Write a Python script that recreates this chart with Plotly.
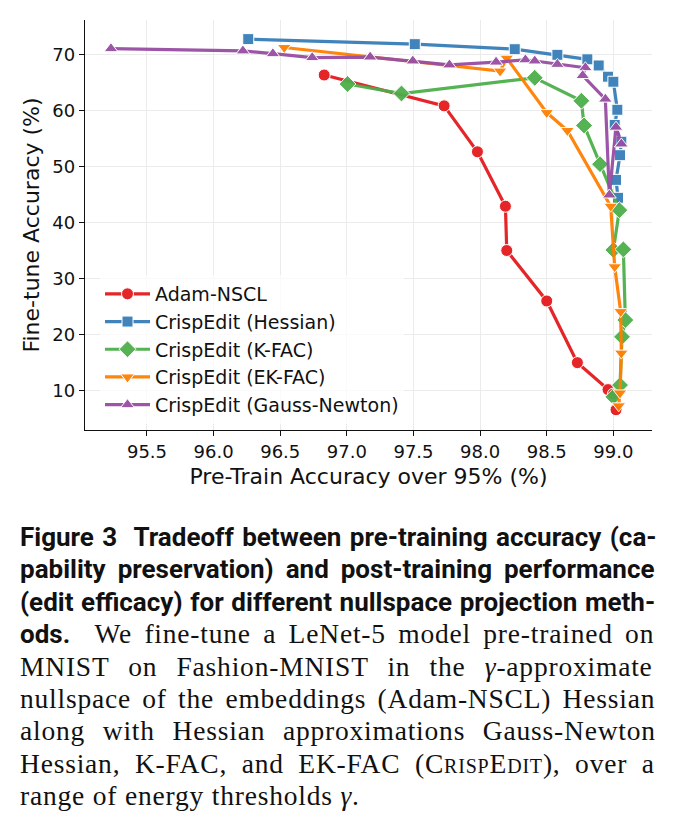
import plotly.graph_objects as go

# ---------------- data ----------------
adam_x = [96.83, 97.73, 97.98, 98.19, 98.20, 98.50, 98.73, 98.96, 99.00, 99.02]
adam_y = [66.3, 60.8, 52.6, 42.9, 35.0, 26.0, 15.0, 10.2, 9.4, 6.6]

hess_x = [96.26, 97.51, 98.26, 98.58, 98.805, 98.89, 98.96, 99.00, 99.03, 99.01, 99.06, 99.05, 99.02, 99.035]
hess_y = [72.7, 71.8, 70.9, 69.9, 69.1, 68.0, 66.0, 65.1, 60.1, 57.4, 54.4, 52.0, 47.6, 44.4]

kfac_x = [97.005, 97.41, 98.41, 98.76, 98.78, 98.90, 99.045, 99.00, 99.075, 99.09, 99.065, 99.05, 99.00]
kfac_y = [64.7, 63.0, 65.8, 61.7, 57.3, 50.4, 42.2, 35.1, 35.2, 22.6, 19.6, 11.0, 8.9]

ekfac_x = [96.53, 98.15, 98.20, 98.50, 98.655, 98.98, 99.01, 99.055, 99.06, 99.05, 99.04]
ekfac_y = [71.2, 67.0, 69.3, 59.6, 56.4, 42.9, 32.1, 24.1, 16.7, 9.6, 7.3]

gn_x = [95.23, 96.22, 96.445, 96.74, 97.175, 97.495, 97.77, 98.12, 98.34, 98.41, 98.58, 98.79, 98.77, 98.94, 98.97, 99.02, 99.06]
gn_y = [71.0, 70.6, 70.1, 69.4, 69.5, 68.8, 68.1, 68.6, 69.0, 68.8, 68.2, 67.6, 66.2, 62.0, 44.9, 57.0, 54.0]

series_names = ["Adam-NSCL", "CrispEdit (Hessian)", "CrispEdit (K-FAC)",
                "CrispEdit (EK-FAC)", "CrispEdit (Gauss-Newton)"]
series_x = [adam_x, hess_x, kfac_x, ekfac_x, gn_x]
series_y = [adam_y, hess_y, kfac_y, ekfac_y, gn_y]
colors = ["#e41a1c", "#377eb8", "#4daf4a", "#ff7f00", "#984ea3"]
symbols = ["circle", "square", "diamond", "triangle-down", "triangle-up"]
sizes = [12, 11, 13, 12, 12]

x_ticks = [95.5, 96.0, 96.5, 97.0, 97.5, 98.0, 98.5, 99.0]
y_ticks = [10, 20, 30, 40, 50, 60, 70]

# ---------------- figure ----------------
W, H = 673, 829
L, R, T, B = 85, 652, 20, 430
fig = go.Figure()
for name, xs, ys, c, s, sz in zip(series_names, series_x, series_y, colors, symbols, sizes):
    fig.add_trace(go.Scatter(
        x=xs, y=ys, name=name, mode="lines+markers",
        line=dict(color=c, width=3.2),
        marker=dict(symbol=s, size=sz, color=c, line=dict(color="white", width=1)),
        opacity=0.95,
    ))

axis_font = dict(family="DejaVu Sans", size=18, color="#111")
title_font = dict(family="DejaVu Sans", size=22, color="#111")
fig.update_layout(
    width=W, height=H,
    margin=dict(l=L, r=W - R, t=T, b=H - B, pad=0),
    paper_bgcolor="white", plot_bgcolor="white",
    font=dict(family="DejaVu Sans", color="#111"),
    showlegend=True,
    legend=dict(
        x=(100 - L) / (R - L), y=(B - 275) / (B - T), xanchor="left", yanchor="top",
        bgcolor="rgba(255,255,255,0.75)", borderwidth=0,
        font=dict(family="DejaVu Sans", size=19, color="#111"),
        tracegroupgap=2, itemwidth=45,
    ),
    xaxis=dict(
        range=[95.035, 99.29], tickvals=x_ticks, ticktext=[f"{v:.1f}" for v in x_ticks],
        showgrid=True, gridcolor="#ebebeb", gridwidth=1, zeroline=False,
        showline=True, linecolor="#111", linewidth=1.3, mirror=False,
        ticks="outside", ticklen=5, tickwidth=1.3, tickcolor="#111",
        tickfont=axis_font,
        title=dict(text="Pre-Train Accuracy over 95% (%)", font=title_font, standoff=7),
    ),
    yaxis=dict(
        range=[2.99, 76.11], tickvals=y_ticks,
        showgrid=True, gridcolor="#ebebeb", gridwidth=1, zeroline=False,
        showline=True, linecolor="#111", linewidth=1.3, mirror=False,
        ticks="outside", ticklen=5, tickwidth=1.3, tickcolor="#111",
        tickfont=axis_font,
        title=dict(text="Fine-tune Accuracy (%)", font=title_font, standoff=6),
    ),
)

# ---------------- caption ----------------
SANS = "Liberation Sans Narrow, Arial Narrow, Roboto, sans-serif"
SERIF = "Liberation Serif, DejaVu Serif, serif"
SER_STYLE = "font-family:" + SERIF + ";font-size:27.5px;letter-spacing:0.8px;"

def bold_line(t, ws):
    return "<b><span style='word-spacing:%.1fpx'>%s</span></b>" % (ws, t)

def serif_line(t, ws):
    return "<span style='%sword-spacing:%.1fpx'>%s</span>" % (SER_STYLE, ws, t)

crisp = ("C<span style='font-size:20px'>RISP</span>E<span style='font-size:20px'>DIT</span>")
lines = [
    bold_line("Figure 3  Tradeoff between pre-training accuracy (ca-", 2.0),
    bold_line("pability preservation) and post-training performance", 5.5),
    bold_line("(edit efficacy) for different nullspace projection meth-", 1.2),
    "<b>ods.</b>" + serif_line("  We fine-tune a LeNet-5 model pre-trained on", 4.7),
    serif_line("MNIST on Fashion-MNIST in the <i>γ</i>-approximate", 11.5),
    serif_line("nullspace of the embeddings (Adam-NSCL) Hessian", 3.6),
    serif_line("along with Hessian approximations Gauss-Newton", 10.0),
    serif_line("Hessian, K-FAC, and EK-FAC (" + crisp + "), over a", 6.9),
    serif_line("range of energy thresholds <i>γ</i>.", 0.0),
]
y0, dy = 537, 32.3
for i, txt in enumerate(lines):
    py = y0 + i * dy
    fig.add_annotation(
        text=txt, xref="paper", yref="paper",
        x=(18 - L) / (R - L), y=(B - py) / (B - T),
        xanchor="left", yanchor="middle", showarrow=False, align="left",
        font=dict(family=SANS, size=26, color="#111"),
    )

fig.write_html("out.html")
